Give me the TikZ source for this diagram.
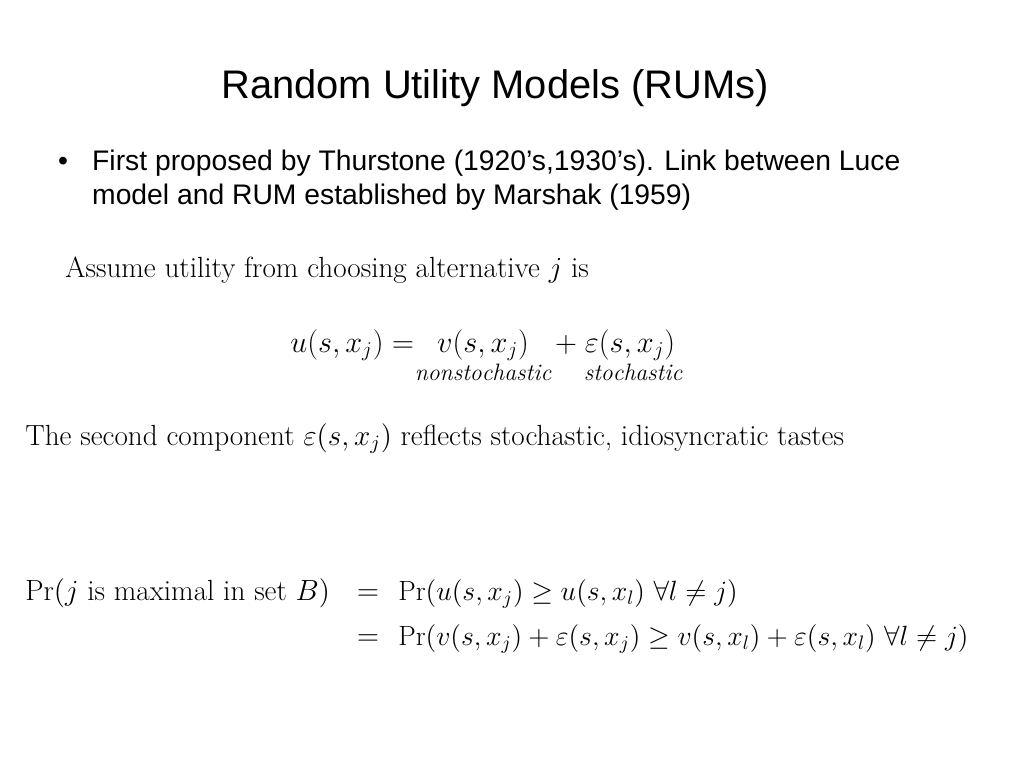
\RequirePackage{fix-cm}
\documentclass[tikz,border=0pt]{standalone}
\usepackage{amsmath,amssymb}
\usepackage{fontspec}
\newfontfamily\slidefont{Liberation Sans}
\usetikzlibrary{positioning}
\tikzset{
  title/.style={anchor=base,font=\slidefont\fontsize{22.7}{27}\selectfont},
  bullet/.style={anchor=base west,font=\slidefont\fontsize{16.1}{20}\selectfont},
  mathtext/.style={anchor=base west,font=\fontsize{16.6}{20}\selectfont,inner sep=0pt},
  rhs/.style={anchor=base west,font=\fontsize{15.85}{19}\selectfont,inner sep=0pt},
  term/.style={anchor=base,font=\fontsize{17.28}{21}\selectfont,inner sep=0pt},
  sublabel/.style={anchor=base,font=\fontsize{13.5}{16}\selectfont,inner sep=0pt}
}
\begin{document}
\begin{tikzpicture}[x=0.02cm,y=-0.02cm]
  \useasboundingbox (0,0) rectangle (1024,768);
  \node [title] (head) at (495,98) {Random Utility Models (RUMs)};
  \node [bullet] (dot) at (52,170) {\textbullet};
  \node [bullet] (line1) at (86,170) {First proposed by Thurstone (1920’s,1930’s). Link between Luce};
  \node [bullet] (line2) at (86,204) {model and RUM established by Marshak (1959)};
  \node [mathtext] (assume) at (65,277) {Assume utility from choosing alternative $j$ is};
  % utility equation
  \node [term,anchor=base west] (ulhs) at (290,352) {$u(s,x_j) =$};
  \node [term] (vterm) at (483,352) {$v(s,x_j)$};
  \node [term] (plus) at (566,352) {$+$};
  \node [term] (eterm) at (630,352) {$\varepsilon(s,x_j)$};
  \node [sublabel] (nonst) at (483,380) {$\mathit{nonstochastic}$};
  \node [sublabel] (stoch) at (633,380) {$\mathit{stochastic}$};
  \node [mathtext] (second) at (25,445) {The second component $\varepsilon(s,x_j)$ reflects stochastic, idiosyncratic tastes};
  % choice probability
  \node [mathtext] (prlhs) at (25,600) {$\Pr(j \text{ is maximal in set } B)$};
  \node [term] (eqa) at (368,600) {$=$};
  \node [rhs] (prone) at (398,600) {$\Pr(u(s,x_j) \geq u(s,x_l)\ \forall l \neq j)$};
  \node [term] (eqb) at (368,645) {$=$};
  \node [rhs] (prtwo) at (398,645) {$\Pr(v(s,x_j) + \varepsilon(s,x_j) \geq v(s,x_l) + \varepsilon(s,x_l)\ \forall l \neq j)$};
\end{tikzpicture}
\end{document}
